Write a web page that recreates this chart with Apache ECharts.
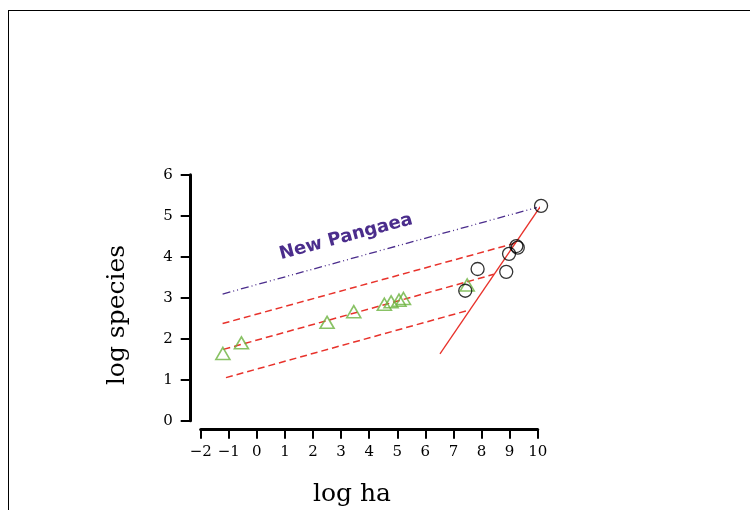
<!DOCTYPE html>
<html>
<head>
<meta charset="utf-8">
<script src="https://cdn.jsdelivr.net/npm/echarts@6/dist/echarts.min.js"></script>
<style>
  html, body { margin: 0; padding: 0; background: #fff; }
  #chart { width: 750px; height: 510px; }
</style>
</head>
<body>
<div id="chart"></div>
<script>
// log ha / log species
const triX = [-1.21, -0.55, 2.50, 3.45, 4.54, 4.78, 5.06, 5.22, 7.49];
const triY = [1.64, 1.90, 2.40, 2.66, 2.84, 2.90, 2.94, 2.98, 3.31];
const circX = [10.12, 9.24, 9.29, 8.98, 7.86, 8.88, 7.42];
const circY = [5.24, 4.26, 4.22, 4.07, 3.70, 3.63, 3.17];

// line end points [x0, y0, x1, y1]
const pangaeaLine = [-1.22, 3.09, 9.97, 5.20];
const upperLine = [-1.22, 2.37, 9.25, 4.34];
const middleLine = [-1.19, 1.74, 8.44, 3.57];
const lowerLine = [-1.10, 1.05, 7.57, 2.70];
const steepLine = [6.52, 1.63, 10.09, 5.22];

const xTicks = [-2, -1, 0, 1, 2, 3, 4, 5, 6, 7, 8, 9, 10];
const yTicks = [0, 1, 2, 3, 4, 5, 6];

const serif = 'DejaVu Serif';
const red = '#e8322b';
const purple = '#4b2d8c';

function pts(xs, ys) {
  return xs.map((x, i) => [x, ys[i]]);
}
function seg(l) {
  return [[l[0], l[1]], [l[2], l[3]]];
}
function lineSeries(l, color, type, width) {
  return {
    type: 'line',
    data: seg(l),
    symbol: 'none',
    silent: true,
    clip: false,
    lineStyle: {color: color, width: width, type: type},
    z: 2
  };
}

const chart = echarts.init(document.getElementById('chart'));
chart.setOption({
  animation: false,
  backgroundColor: '#fff',
  grid: {left: 200.7, right: 212.3, top: 174.7, bottom: 89.3},
  xAxis: {
    type: 'value',
    min: xTicks[0],
    max: xTicks[xTicks.length - 1],
    interval: 1,
    offset: 9,
    splitLine: {show: false},
    axisLine: {onZero: false, lineStyle: {color: '#000', width: 3}},
    axisTick: {length: 9, lineStyle: {color: '#000', width: 2}},
    axisLabel: {
      margin: 15,
      fontFamily: serif,
      fontSize: 15,
      color: '#000',
      formatter: v => v < 0 ? '\u2212' + (-v) : String(v)
    }
  },
  yAxis: {
    type: 'value',
    min: yTicks[0],
    max: yTicks[yTicks.length - 1],
    interval: 1,
    offset: 10,
    splitLine: {show: false},
    axisLine: {onZero: false, lineStyle: {color: '#000', width: 3}},
    axisTick: {length: 10, lineStyle: {color: '#000', width: 2}},
    axisLabel: {
      margin: 18,
      fontFamily: serif,
      fontSize: 15,
      color: '#000'
    }
  },
  graphic: [
    {type: 'line', shape: {x1: 8, y1: 10.5, x2: 750, y2: 10.5}, style: {stroke: '#000', lineWidth: 1}},
    {type: 'line', shape: {x1: 8.5, y1: 10, x2: 8.5, y2: 510}, style: {stroke: '#000', lineWidth: 1}},
    {
      type: 'text', x: 117, y: 315, rotation: Math.PI / 2,
      style: {text: 'log species', font: '25px "' + serif + '"', fill: '#000', align: 'center', verticalAlign: 'middle'}
    },
    {
      type: 'text', x: 352, y: 494,
      style: {text: 'log ha', font: '25px "' + serif + '"', fill: '#000', align: 'center', verticalAlign: 'middle'}
    },
    {
      type: 'text', x: 346, y: 237, rotation: 15 * Math.PI / 180,
      style: {text: 'New Pangaea', font: '600 18px "DejaVu Sans"', fill: purple, align: 'center', verticalAlign: 'middle'}
    }
  ],
  series: [
    lineSeries(pangaeaLine, purple, [8, 3, 1, 3, 1, 3], 1.3),
    lineSeries(upperLine, red, [7, 4], 1.5),
    lineSeries(middleLine, red, [7, 4], 1.5),
    lineSeries(lowerLine, red, [7, 4], 1.5),
    lineSeries(steepLine, red, 'solid', 1.3),
    {
      type: 'scatter',
      data: pts(triX, triY),
      symbol: 'triangle',
      symbolSize: [14, 12],
      clip: false,
      itemStyle: {color: 'rgba(0,0,0,0)', borderColor: '#6cb33e', borderWidth: 1.6},
      z: 3
    },
    {
      type: 'scatter',
      data: pts(circX, circY),
      symbol: 'circle',
      symbolSize: 13,
      clip: false,
      itemStyle: {color: 'rgba(0,0,0,0)', borderColor: '#000', borderWidth: 1.3},
      z: 4
    }
  ]
});
</script>
</body>
</html>
